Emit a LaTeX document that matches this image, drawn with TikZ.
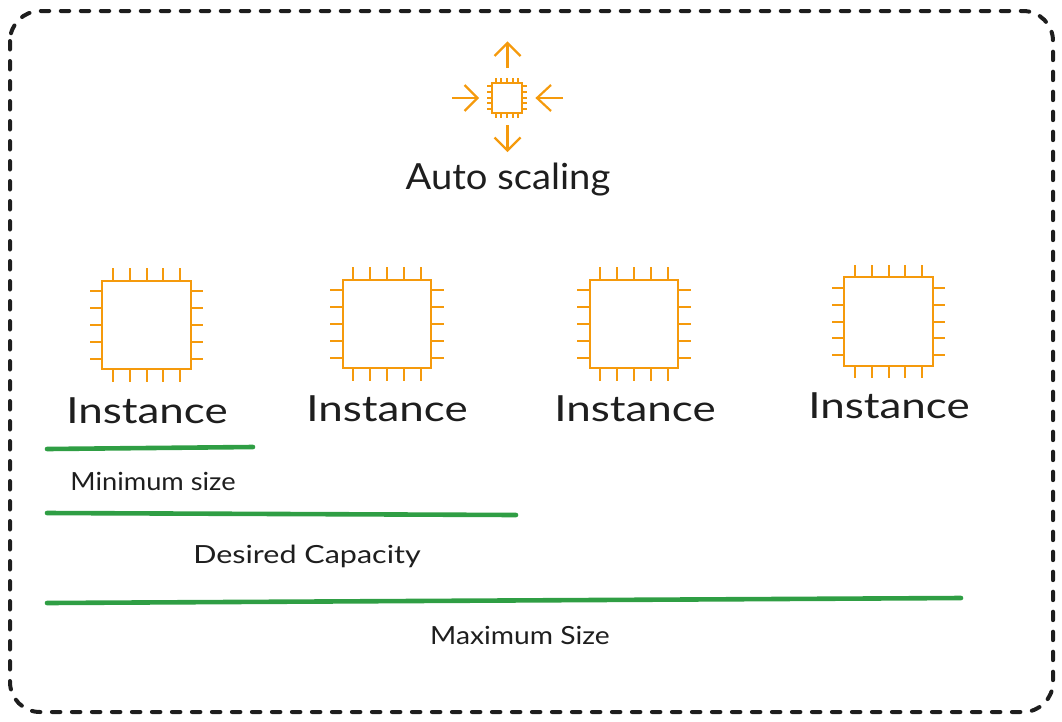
\documentclass[tikz,border=0pt]{standalone}
\usepackage{fontspec}
\setmainfont{Lato}
\definecolor{chiporange}{HTML}{F59A0C}
\definecolor{linegreen}{HTML}{2F9E44}
\definecolor{inkblack}{HTML}{1E1E1E}
\tikzset{
  frame/.style={draw=inkblack,line width=4pt,line cap=round,rounded corners=30pt,dash pattern=on 8.5pt off 11.5pt},
  chip/.style={draw=chiporange,line width=2pt,rectangle,inner sep=0pt,outer sep=0pt},
  pin/.style={draw=chiporange,line width=2pt},
  flow/.style={draw=chiporange,line width=2.2pt,line join=miter},
  bar/.style={draw=linegreen,line width=4.6pt,line cap=round},
  biglabel/.style={font=\fontsize{36}{40}\selectfont,text=inkblack,inner sep=0pt},
  smalllabel/.style={font=\fontsize{25}{30}\selectfont,text=inkblack,inner sep=0pt}
}
% \chipat{name}{cx}{cy}{size}{pin length}
\newcommand{\chipat}[5]{%
  \node[chip,minimum size=#4pt] (#1) at (#2,#3) {};
  \begin{scope}[shift={(#1.center)}]
    \foreach \k in {-2,-1,0,1,2}{
      \pgfmathsetmacro{\off}{\k*0.19*#4}
      \pgfmathsetmacro{\a}{#4/2}
      \pgfmathsetmacro{\b}{#4/2+#5}
      \draw[pin] (\off,-\a) -- (\off,-\b);
      \draw[pin] (\off,\a) -- (\off,\b);
      \draw[pin] (-\a,\off) -- (-\b,\off);
      \draw[pin] (\a,\off) -- (\b,\off);
    }
  \end{scope}
}
\begin{document}
\begin{tikzpicture}[x=1pt,y=-1pt]
\useasboundingbox (0,0) rectangle (1062,721);
\draw[frame] (10,11) rectangle (1053,712);
\chipat{small}{507}{97.5}{30}{5}
\chipat{c1}{146.5}{325}{88.5}{12.5}
\chipat{c2}{387}{324}{88.5}{12.5}
\chipat{c3}{634}{324}{88.5}{12.5}
\chipat{c4}{888.5}{321.5}{88.5}{12.5}
\coordinate (us) at (507.5,68); \coordinate (ue) at (507.5,43);
\coordinate (ds) at (507.5,125); \coordinate (de) at (507.5,150.5);
\coordinate (ls) at (452,98); \coordinate (le) at (477.5,98);
\coordinate (rs) at (563,98); \coordinate (re) at (537,98);
\draw[flow] (us) -- (ue);
\draw[flow] ([shift={(-13,13)}]ue) -- (ue) -- ([shift={(13,13)}]ue);
\draw[flow] (ds) -- (de);
\draw[flow] ([shift={(-13,-13)}]de) -- (de) -- ([shift={(13,-13)}]de);
\draw[flow] (ls) -- (le);
\draw[flow] ([shift={(-13,-13)}]le) -- (le) -- ([shift={(-13,13)}]le);
\draw[flow] (rs) -- (re);
\draw[flow] ([shift={(14,-13)}]re) -- (re) -- ([shift={(14,13)}]re);
\node[biglabel] (auto) at (508,180) {\scalebox{1.06}[1]{Auto scaling}};
\node[biglabel] (i1) at (147,411) {\scalebox{1.22}[1]{Instance}};
\node[biglabel] (i2) at (387,409) {\scalebox{1.22}[1]{Instance}};
\node[biglabel] (i3) at (635,409) {\scalebox{1.22}[1]{Instance}};
\node[biglabel] (i4) at (889,406) {\scalebox{1.22}[1]{Instance}};
\coordinate (a1) at (47,449); \coordinate (a2) at (253,447);
\coordinate (b1) at (47,513); \coordinate (b2) at (516,515);
\coordinate (g1) at (47,603); \coordinate (g2) at (961,598);
\draw[bar] (a1) -- (a2);
\draw[bar] (b1) -- (b2);
\draw[bar] (g1) -- (g2);
\node[smalllabel] (mins) at (153,481) {\scalebox{1.09}[1]{Minimum size}};
\node[smalllabel] (des) at (307,556) {\scalebox{1.22}[1]{Desired Capacity}};
\node[smalllabel] (maxs) at (520,635) {\scalebox{1.13}[1]{Maximum Size}};
\end{tikzpicture}
\end{document}
